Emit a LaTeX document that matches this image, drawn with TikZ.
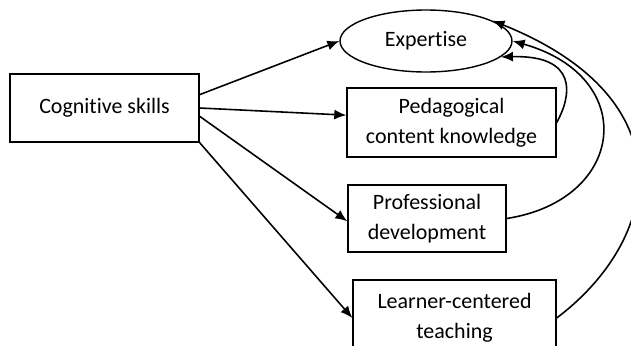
\documentclass[tikz,border=0pt]{standalone}
\usepackage{fontspec}
\setmainfont{Carlito}[Ligatures=NoCommon]
\usetikzlibrary{shapes.geometric,arrows.meta}
\begin{document}
\begin{tikzpicture}[x=0.02cm,y=-0.02cm]

    \tikzset{
      box/.style={
        draw,
        line width=0.8pt,
        align=center,
        inner sep=0pt,
        font=\fontsize{12.5}{17}\selectfont,
      },
      oval/.style={
        box,
        ellipse,
      },
      link/.style={
        line width=0.9pt,
        -{Latex[length=2.4mm,width=2mm]},
      },
    }
    \clip (0,0) rectangle (631,345);

    \node[box,minimum width=3.78cm,minimum height=1.36cm] (cog) at (104.5,108) {Cognitive skills};
    \node[oval,minimum width=3.44cm,minimum height=1.24cm] (expertise) at (426,41) {Expertise};
    \node[box,minimum width=4.18cm,minimum height=1.38cm] (pck) at (451.5,122.5) {Pedagogical\\content knowledge};
    \node[box,minimum width=3.16cm,minimum height=1.34cm] (prof) at (427,218.5) {Professional\\development};
    \node[box,minimum width=4.06cm,minimum height=1.52cm] (learner) at (454.5,318) {Learner-centered\\teaching};

    % from the cognitive skills
    \draw[link] (cog.8) -- (expertise.west);
    \draw[link] (cog.0) -- (pck.176);
    \draw[link] (cog.-5) -- (prof.182);
    \draw[link] (cog.south east) -- (learner.west);

    % back to expertise
    \draw[link] (pck.east) .. controls (572,95) and (578,55) .. (expertise.-12);
    \draw[link] (prof.east) .. controls (626,200) and (640,77) .. (expertise.east);
    \draw[link] (learner.east) .. controls (660,240) and (690,100) .. (expertise.17);

\end{tikzpicture}
\end{document}
